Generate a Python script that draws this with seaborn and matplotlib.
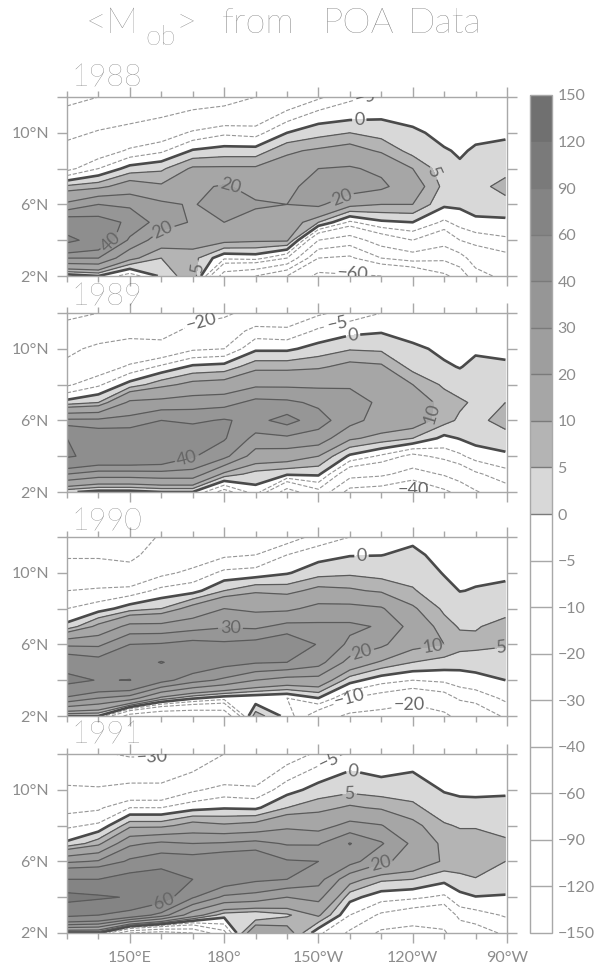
#!/usr/bin/env python3
"""<M_ob> from POA data: four years of latitude/longitude contour panels."""

import numpy as np
import matplotlib
matplotlib.use('Agg')
import matplotlib.pyplot as plt
from matplotlib.colors import BoundaryNorm, ListedColormap
import seaborn as sns

LONS = [130, 140, 150, 160, 170, 180, 190, 200, 210, 220, 230, 240, 250, 255, 260, 269.5]
LATS = [12, 11, 10, 9, 8, 7, 6, 5, 4, 3, 2]
LEVELS = [-150, -120, -90, -60, -40, -30, -20, -10, -5, 0, 5, 10, 20, 30, 40, 60, 90, 120, 150]

# one list per longitude, running from 12N down to 2N
M_1988 = [
    [-32, -28, -23, -16, -12, 6, 22, 48, 65, 30, -3],
    [-30, -26, -19, -14, -5, 8, 30, 45, 52, 30, 0],
    [-28, -24, -16, -9, 2, 14, 28, 38, 28, 12, -8],
    [-26, -21, -14, -6, 4, 11, 22, 25, 14, 5, 1],
    [-25, -18, -9, 0.5, 11, 18, 19, 19, 13, 7, 9],
    [-24, -16, -6, 2, 11, 21, 26, 20, 12, -4, -25],
    [-20, -15, -7, 2, 11, 17, 21, 17, 11, -3, -30],
    [-16, -8, 0, 9, 13, 17, 20, 15, 11, -10, -40],
    [-11, -3, 3, 11, 20, 25, 22, 5, -20, -40, -65],
    [-6, -2, 5, 13, 21, 26, 12, -6, -25, -42, -62],
    [-4, -1, 3, 9, 18, 22, 10, -1, -15, -30, -60],
    [-3, -2, 1, 3, 10, 14, 10, 0, -10, -25, -55],
    [-2, -1.5, -1.5, 0.4, 2, 3.5, 1, -6, -16, -28, -42],
    [-2, -1.5, -1, -0.5, 0.6, 2.5, 1, -3, -10, -24, -36],
    [-2, -1.5, -1, 0.5, 2, 3, 2, -1, -8, -15, -24],
    [-2, -1.5, -0.6, 1, 3, 7, 3, -1, -6, -12, -17],
]
M_1989 = [
    [-32, -27, -22, -18, -11, 2, 32, 60, 62, 30, 1],
    [-30, -25, -18, -14, -6, 5, 32, 50, 55, 25, -2],
    [-27, -23, -16, -9, 2, 22, 33, 50, 55, 25, -2],
    [-25, -24, -16, -4, 8, 23, 40, 50, 52, 26, 0],
    [-25, -17, -11, 1, 12, 25, 38, 48, 41, 26, 0],
    [-22, -14, -10, 2, 13, 26, 41, 41, 33, 8, -13],
    [-16, -8, -1, 8, 18, 33, 37, 27, 15, 3, -2],
    [-14, -9, -1, 8, 18, 32, 44, 28, 14, 1, -25],
    [-11, -4, 2, 9, 18, 28, 34, 26, 10, 1, -12],
    [-8, -1.5, 4.5, 12, 18, 27, 24, 11, -1, -16, -34],
    [-5, -0.5, 4, 11, 14, 17, 15, 8, -6, -18, -36],
    [-2, -2, 1, 3, 10, 14, 14, 5, -12, -24, -42],
    [-2, -1.5, -1, 0.6, 4, 8, 7, -1.5, -8, -19, -32],
    [-2, -1.5, -1, -0.2, 2, 6, 4, 0.3, -6, -15, -27],
    [-2, -1.5, -0.6, 1, 2.5, 4, 3.5, 2, -3, -11, -21],
    [-2, -1.5, -0.8, 0.5, 2.5, 5, 7, 3, -1, -7, -13],
]
M_1990 = [
    [-24, -21, -16, -10, -5, 1.5, 28, 50, 66, 38, 0],
    [-24, -21, -16, -9, -2.5, 12, 28, 45, 59, 30, 0],
    [-25, -22, -17, -8, 2.5, 23, 40, 50, 60.5, 25, -25],
    [-19, -16, -11.5, -3.5, 5, 23, 41, 61, 44, 8, -30],
    [-18, -14, -8.5, -2, 13, 26, 44, 50, 34, 1, -30],
    [-16, -11, -3.8, 5, 20, 29, 42, 44, 28, -3, -28],
    [-14, -10, -3, 9, 18, 28, 44, 41, 20, -4, 8],
    [-13, -5, -0.5, 8, 18, 33, 50, 40, 16, -5, -2],
    [-8, -2, 3, 12, 23, 32, 39, 34, 16, 0, -15],
    [-5, -0.3, 4, 11, 23, 32, 28, 16, 2, -10, -22],
    [-3, -0.1, 3, 9, 21, 29, 22, 9, -3, -13, -24],
    [-1, 1, 3, 5.5, 11, 16, 12, 5, -5, -16, -27],
    [-2, -1.5, -0.3, 1.5, 4, 7, 10, 3, -4, -13, -22],
    [-2, -1.5, -1, -0.1, 2, 4.5, 7, 2, -2.5, -9, -17],
    [-2, -1.5, -0.7, 0.2, 2, 4.5, 6.5, 2, -1.5, -8, -15],
    [-2, -1.5, -0.7, 0.8, 3, 7, 5.5, 2, 0, -4, -9],
]
M_1991 = [
    [-27, -23, -19, -12, -6, 1, 28, 60, 100, 65, 0],
    [-29, -25, -19, -11, -4, 8, 31, 60, 94, 60, 0],
    [-31, -25, -17, -5, 8, 28, 42, 70, 88, 50, -30],
    [-31, -25, -17, -5, 8, 32, 47, 78, 72, 35, -35],
    [-28, -20, -11, -2, 13, 30, 46, 60, 41, 14, -30],
    [-20, -15, -8, -0.5, 11, 31, 50, 48, 28, 2, -12],
    [-18, -14, -9, -1, 12.5, 33, 52, 42, 26, 0, 18],
    [-13, -8, -2, 5, 18, 29, 41, 40, 20, 4, 14],
    [-9, -3, 2, 8, 16, 29, 40, 34, 23, 11, -4],
    [-4, 0.3, 3.5, 11, 23, 40.5, 34, 13, 1.8, -5, -11],
    [-3, -1, 2.5, 9, 20.5, 31, 22, 6, -3, -11, -22],
    [-1.5, 0, 3, 6, 12, 18, 16, 5, -4, -14, -24],
    [-2, -1.5, -0.4, 2.5, 5.5, 8, 9, 1.5, -6, -16, -21],
    [-2, -1.5, -0.6, 1, 4.6, 7, 8, 3.5, -1.5, -8, -15],
    [-2, -1.5, -0.7, 1, 4.6, 7, 8, 4.7, -0.2, -7, -13],
    [-2, -1.5, -0.5, 1, 3, 6, 5, 3, -0.5, -4.5, -9],
]

YEARS = ['1988', '1989', '1990', '1991']
PANELS = [M_1988, M_1989, M_1990, M_1991]

LABELS = [
    [(226, 11.8), (223, 10.7), (246, 7.7), (182, 7.1), (160.6, 4.5), (217.5, 6.4),
     (144, 3.9), (170, 2.5), (221, 2.2)],
    [(173, 11.2), (216, 11.4), (221, 10.8), (246, 6.4), (168, 4.0), (240.5, 2.3)],
    [(182, 6.85), (223.7, 11.0), (224, 5.5), (246.5, 5.8), (268, 6.4), (220, 3.0), (238.5, 2.9)],
    [(213, 11.7), (221, 11.0), (220, 9.7), (230, 5.8), (160.5, 3.85), (157, 11.95)],
]

GREYS = ['#d8d8d8', '#b4b4b4', '#a6a6a6', '#9e9e9e', '#969696', '#8e8e8e', '#848484', '#7a7a7a', '#707070']
TEXT_GREY = '#8c8c8c'
THIN_GREY = '#333333'
LABEL_GREY = '#666666'
AXIS_GREY = '#a8a8a8'

sns.set_style('white')
plt.rcParams['font.family'] = ['Lato', 'DejaVu Sans']
plt.rcParams['axes.linewidth'] = 1.0

W, H = 595, 968
fig = plt.figure(figsize=(W / 100, H / 100), dpi=100)


def px_axes(left, top, right, bottom):
    return fig.add_axes([left / W, 1 - bottom / H, (right - left) / W, (bottom - top) / H])


def px_text(x, y, s, size):
    fig.text(x / W, 1 - y / H, s, fontsize=size, color=THIN_GREY, fontweight='light',
             ha='left', va='baseline', alpha=0.75)


def minus(v):
    return f'{v:g}'.replace('-', '\u2212')


def lat_label(v):
    return f'{v}\u00b0N'


cmap = ListedColormap(['#ffffff'] * 9 + GREYS)
norm = BoundaryNorm(LEVELS, cmap.N)
widths = [0.8] * 9 + [1.9] + [0.9] * 9
colors = ['#969696'] * 9 + ['#4a4a4a'] + ['#5a5a5a'] * 9
styles = ['--'] * 9 + ['-'] * 10

PANEL_BOXES = [(97, 276), (313, 492), (537, 716), (754, 933)]
YEAR_GAPS = [11, 8, 7, 11]

for i, (year, values, box) in enumerate(zip(YEARS, PANELS, PANEL_BOXES)):
    ax = px_axes(67, box[0], 507, box[1])
    z = np.array(values, dtype=float).T
    cf = ax.contourf(LONS, LATS, z, levels=LEVELS, cmap=cmap, norm=norm)
    cs = ax.contour(LONS, LATS, z, levels=LEVELS, colors=colors, linewidths=widths, linestyles=styles)
    ax.set_xlim(130, 270)
    ax.set_ylim(2, 12)
    ax.clabel(cs, manual=LABELS[i], fmt=minus, inline=True, inline_spacing=2, fontsize=13, colors=LABEL_GREY)

    ax.set_xticks([150, 180, 210, 240, 270])
    ax.set_xticks(range(130, 270, 10), minor=True)
    ax.set_yticks([2, 6, 10])
    ax.set_yticks([4, 8, 12], minor=True)
    ax.set_yticklabels([lat_label(v) for v in [2, 6, 10]])
    if i == 3:
        ax.set_xticklabels(['150\u00b0E', '180\u00b0', '150\u00b0W', '120\u00b0W', '90\u00b0W'])
    else:
        ax.set_xticklabels([])
    ax.tick_params(which='major', length=7, width=1, color=AXIS_GREY, labelcolor=TEXT_GREY,
                   labelsize=11.5, top=True, right=True, bottom=True, left=True, pad=6)
    ax.tick_params(which='minor', length=4, width=1, color=AXIS_GREY, top=True, right=True,
                   bottom=True, left=True)
    ax.tick_params(axis='y', which='minor', length=7)
    for spine in ax.spines.values():
        spine.set_color(AXIS_GREY)
    px_text(71, box[0] - YEAR_GAPS[i], year, 22)

cax = px_axes(530, 95, 552, 933)
cbar = fig.colorbar(cf, cax=cax, ticks=LEVELS, spacing='uniform', drawedges=True)
cbar.ax.set_yticklabels([minus(v) for v in LEVELS])
cbar.ax.tick_params(length=0, labelsize=11.5, labelcolor=TEXT_GREY, pad=4)
cbar.outline.set_edgecolor(AXIS_GREY)
cbar.dividers.set_color(['#a8a8a8'] * 8 + ['#7a7a7a'] * 9)
cbar.dividers.set_linewidth(1.0)

# title pieces, the subscript sits lower and smaller
px_text(86, 33, '<', 26)
px_text(106, 33, 'M', 26)
px_text(145, 45, 'ob', 20)
px_text(176, 33, '>', 26)
px_text(222, 33, 'from', 26)
px_text(323, 33, 'POA', 26)
px_text(408, 33, 'Data', 26)

fig.savefig('out.png', dpi=100, facecolor='white')
